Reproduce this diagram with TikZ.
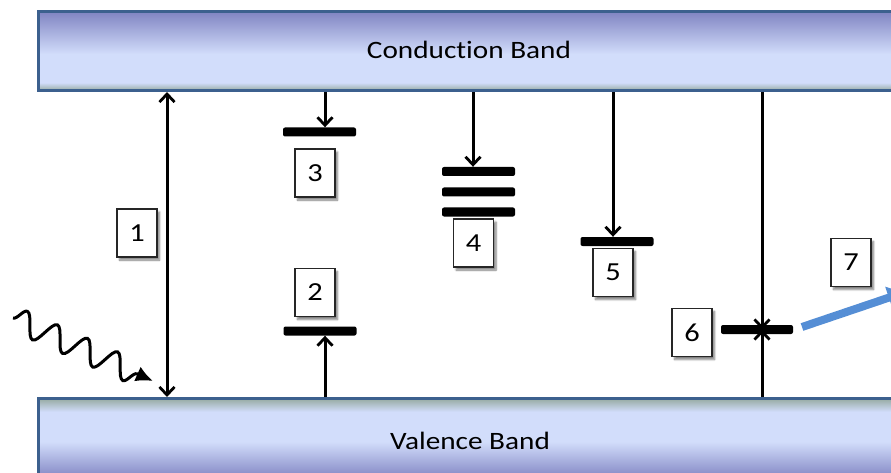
\documentclass[tikz,border=0pt]{standalone}
\usepackage{fontspec}
\setmainfont[Ligatures=NoCommon]{Carlito}
\usetikzlibrary{arrows.meta,shadows.blur,decorations.pathmorphing}
\definecolor{bandgreen}{RGB}{150,170,162}
\definecolor{bandlight}{RGB}{210,221,251}
\definecolor{bandpurple}{RGB}{128,132,194}
\definecolor{bandborder}{RGB}{60,96,142}
\definecolor{photonblue}{RGB}{85,142,213}
\pgfdeclareverticalshading{cbshade}{100bp}{color(0bp)=(bandgreen); color(25bp)=(bandgreen); color(30bp)=(bandlight); color(48bp)=(bandlight); color(75bp)=(bandpurple); color(100bp)=(bandpurple)}
\pgfdeclareverticalshading{vbshade}{100bp}{color(0bp)=(bandpurple); color(25bp)=(bandpurple); color(30bp)=(bandpurple!85!bandlight); color(49bp)=(bandlight); color(67bp)=(bandlight); color(75bp)=(bandgreen); color(100bp)=(bandgreen)}
\tikzset{
  band/.style={draw=bandborder, line width=3pt, rectangle, inner sep=0pt, anchor=north west},
  bandtext/.style={font=\fontsize{25}{29}\selectfont, text=black, inner sep=0pt},
  numbox/.style={draw=black!85, line width=1.1pt, fill=white, minimum width=40pt, minimum height=48pt, inner sep=0pt,
    font=\fontsize{26}{30}\selectfont, blur shadow={shadow xshift=2.5pt, shadow yshift=-3pt, shadow blur steps=7, shadow opacity=50}},
  levelbar/.style={fill=black, rectangle, rounded corners=2pt, minimum width=73pt, minimum height=9pt, inner sep=0pt},
  trans/.style={line width=3pt, black},
  barb/.tip={Straight Barb[length=8pt, width=15pt, line width=2.8pt]}
}
\newcommand{\wide}[1]{\scalebox{1.17}[1]{#1}}
\begin{document}
\begin{tikzpicture}[x=1pt, y=-1pt]
\useasboundingbox (0,0) rectangle (891,473);
\clip (0,0) rectangle (891,473);
% bands
\node[band, shading=cbshade, minimum width=863pt, minimum height=79pt] (cb) at (37,10) {};
\node[band, shading=vbshade, minimum width=863pt, minimum height=83pt] (vb) at (37,397) {};
\node[bandtext] (cbt) at (469,50) {\wide{Conduction Band}};
\node[bandtext] (vbt) at (470,441) {\wide{Valence Band}};
% level bars
\node[levelbar] (b3) at (319.5,132) {};
\node[levelbar] (b2) at (320,331) {};
\node[levelbar] (b4a) at (478.5,171.5) {};
\node[levelbar] (b4b) at (478.5,192) {};
\node[levelbar] (b4c) at (478.5,212) {};
\node[levelbar] (b5) at (617,241.5) {};
\node[levelbar, minimum width=72pt] (b6) at (757,329.5) {};
% x positions of transitions
\coordinate (x1) at (167,0);
\coordinate (x2) at (325,0);
\coordinate (x4) at (473,0);
\coordinate (x5) at (613,0);
\coordinate (x6) at (762,0);
% transitions
\draw[trans, {barb}-{barb}] (cb.south -| x1) -- (vb.north -| x1);
\draw[trans, -{barb}] (cb.south -| x2) -- (b3.north -| x2);
\draw[trans, -{barb}] (vb.north -| x2) -- (b2.south -| x2);
\draw[trans, -{barb}] (cb.south -| x4) -- (b4a.north -| x4);
\draw[trans, -{barb}] (cb.south -| x5) -- (b5.north -| x5);
\draw[trans, -{barb}] (cb.south -| x6) -- (b6.center -| x6);
\draw[trans, -{barb}] (vb.north -| x6) -- (b6.center -| x6);
% number boxes
\node[numbox] (n1) at (137,233) {\wide{1}};
\node[numbox] (n2) at (315,292.5) {\wide{2}};
\node[numbox] (n3) at (315,173) {\wide{3}};
\node[numbox] (n4) at (473.5,243) {\wide{4}};
\node[numbox] (n5) at (613,272.5) {\wide{5}};
\node[numbox] (n6) at (692,332.5) {\wide{6}};
\node[numbox] (n7) at (851,262.5) {\wide{7}};
% photon in
\coordinate (ph0) at (13,318);
\coordinate (ph1) at (153,381);
\draw[line width=3pt, black, -{Latex[length=17pt, width=16pt]},
  decorate, decoration={snake, amplitude=12pt, segment length=33pt, post length=16pt}]
  (ph0) -- (ph1);
% emitted photon
\coordinate (e0) at (802,327);
\coordinate (e1) at (904,292.5);
\draw[line width=8pt, photonblue, -{Triangle[length=16pt, width=22pt]}] (e0) -- (e1);
\end{tikzpicture}
\end{document}
